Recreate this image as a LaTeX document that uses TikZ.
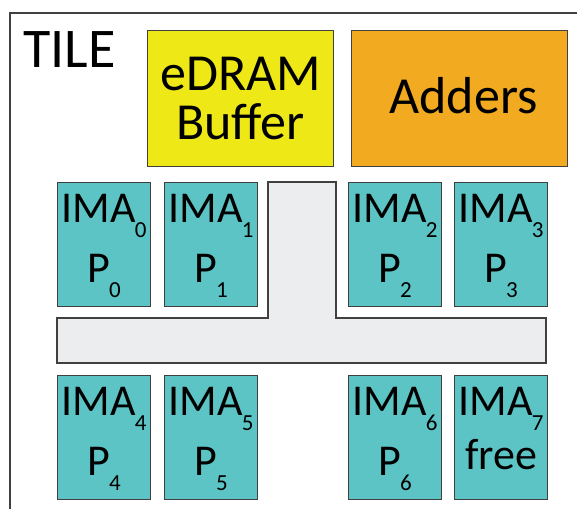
\documentclass[tikz,border=0pt]{standalone}
\usepackage{fontspec}
\setmainfont{Carlito}
\usetikzlibrary{positioning}
\definecolor{tileedge}{RGB}{64,64,64}
\definecolor{tileteal}{RGB}{92,196,197}
\definecolor{tileyellow}{RGB}{238,232,22}
\definecolor{tileorange}{RGB}{242,170,32}
\definecolor{tilegray}{RGB}{236,237,239}
\newcommand{\lowsub}[1]{\kern-1pt\raisebox{-15pt}{\fontsize{23}{23}\selectfont #1}}

\begin{document}
\begin{tikzpicture}[x=1pt,y=-1pt,
  block/.style={draw=tileedge,line width=1.3pt,inner sep=0pt,anchor=north west},
  ima/.style={block,fill=tileteal,minimum width=93pt,minimum height=124pt},
  lbl/.style={font=\fontsize{44}{44}\selectfont,anchor=base,inner sep=0pt}]
  \useasboundingbox (0,0) rectangle (577,508);
  % Tile frame (runs off the page)
  \draw[tileedge,line width=2pt] (10,515) -- (10,13) -- (585,13);
  \node[font=\fontsize{56}{56}\selectfont,anchor=base west,inner sep=0pt] (tile) at (23,68) {TILE};
  % Buffer and adders
  \node[block,fill=tileyellow,minimum width=186pt,minimum height=136pt,align=center,
        font=\fontsize{52}{52}\selectfont] (buffer) at (147,30) {eDRAM\\[-3pt]Buffer};
  \node[block,fill=tileorange,minimum width=216pt,minimum height=136pt,
        font=\fontsize{52}{52}\selectfont] (adders) at (351,30) {\kern8pt Adders\rule[-6pt]{0pt}{1pt}};
  % Shared bus
  \draw[tileedge,line width=1.3pt,fill=tilegray] (57,318) -- (268,318) -- (268,182) -- (336,182)
    -- (336,318) -- (546,318) -- (546,363) -- (57,363) -- cycle;
  % IMAs
  \foreach \i/\x/\y/\dy/\job in {0/57/182/100/P\lowsub{0}, 1/164/182/100/P\lowsub{1},
      2/348/182/100/P\lowsub{2}, 3/454/182/100/P\lowsub{3},
      4/57/375/100/P\lowsub{4}, 5/164/375/100/P\lowsub{5},
      6/348/375/100/P\lowsub{6}, 7/454/375/94/free} {
    \node[ima] (ima\i) at (\x,\y) {};
    \node[lbl] (imaname\i) at ([yshift=-40pt]ima\i.north) {IMA\lowsub{\i}};
    \node[lbl] (imajob\i) at ([yshift=-\dy pt]ima\i.north) {\job};
  }
\end{tikzpicture}
\end{document}
